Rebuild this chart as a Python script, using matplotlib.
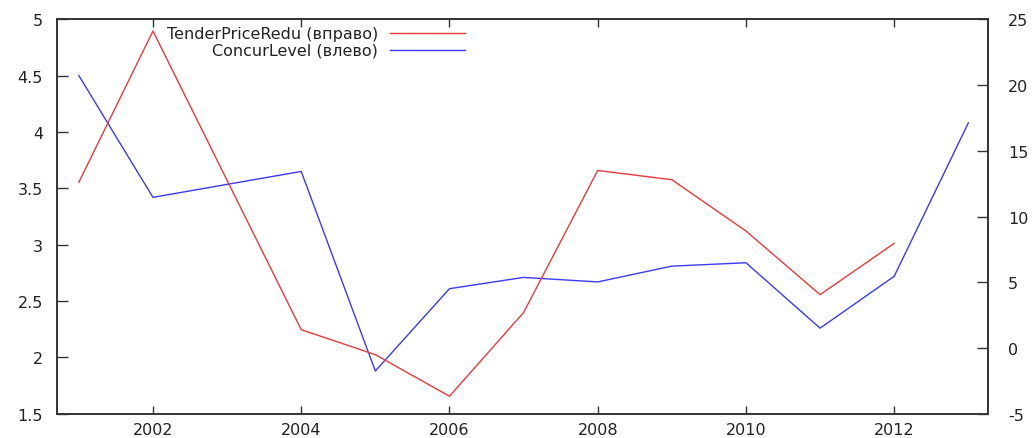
import matplotlib.pyplot as plt
from matplotlib.lines import Line2D
from matplotlib.ticker import FormatStrFormatter

# ConcurLevel, left axis
concur_years = [2001, 2002, 2004, 2005, 2006, 2007, 2008, 2009, 2010, 2011, 2012, 2013]
concur_level = [4.50, 3.42, 3.65, 1.88, 2.61, 2.71, 2.67, 2.81, 2.84, 2.26, 2.72, 4.08]

# TenderPriceRedu, right axis
tender_years = [2001, 2002, 2004, 2005, 2006, 2007, 2008, 2009, 2010, 2011, 2012]
tender_price_redu = [12.6, 24.1, 1.4, -0.5, -3.66, 2.7, 13.5, 12.8, 8.9, 4.06, 7.96]

left_ticks = [1.5, 2, 2.5, 3, 3.5, 4, 4.5, 5]
right_ticks = [-5, 0, 5, 10, 15, 20, 25]
year_ticks = [2002, 2004, 2006, 2008, 2010, 2012]

RED = "#e8383c"
BLUE = "#3a3af0"
AXIS = "#333333"
TEXT = "#222222"

plt.rcParams["font.family"] = "DejaVu Sans"
plt.rcParams["font.size"] = 11.5
plt.rcParams["axes.unicode_minus"] = False

fig, ax = plt.subplots(figsize=(10.36, 4.39), dpi=100)
fig.subplots_adjust(left=0.055, right=0.954, top=0.954, bottom=0.055)
ax2 = ax.twinx()

ax.plot(concur_years, concur_level, color=BLUE, lw=1.0)
ax2.plot(tender_years, tender_price_redu, color=RED, lw=1.0)

ax.set_xlim(2000.705, 2013.27)
ax.set_ylim(1.5, 5)
ax2.set_ylim(-5, 25)

ax.set_xticks(year_ticks)
ax.set_yticks(left_ticks)
ax2.set_yticks(right_ticks)
ax.yaxis.set_major_formatter(FormatStrFormatter("%g"))

for a in (ax, ax2):
    for s in a.spines.values():
        s.set_color(AXIS)
        s.set_linewidth(1.2)

ax.tick_params(axis="x", direction="in", length=6, width=1, color=AXIS,
               top=True, labeltop=False, pad=6, labelcolor=TEXT)
ax.tick_params(axis="y", direction="in", length=8, width=1, color=AXIS,
               right=False, pad=10, labelcolor=TEXT)
ax2.tick_params(axis="y", direction="in", length=8, width=1, color=AXIS,
                pad=14, labelcolor=TEXT)

# key in the upper left, text right-aligned before the sample line
keys = [("TenderPriceRedu (вправо)", RED), ("ConcurLevel (влево)", BLUE)]
for i, (label, color) in enumerate(keys):
    y = 0.965 - i * 0.043
    ax.text(0.345, y, label, transform=ax.transAxes, ha="right", va="center",
            color=TEXT)
    ax.add_line(Line2D([0.358, 0.438], [y, y], transform=ax.transAxes,
                       color=color, lw=1.0))

fig.savefig("out.png", dpi=100)
